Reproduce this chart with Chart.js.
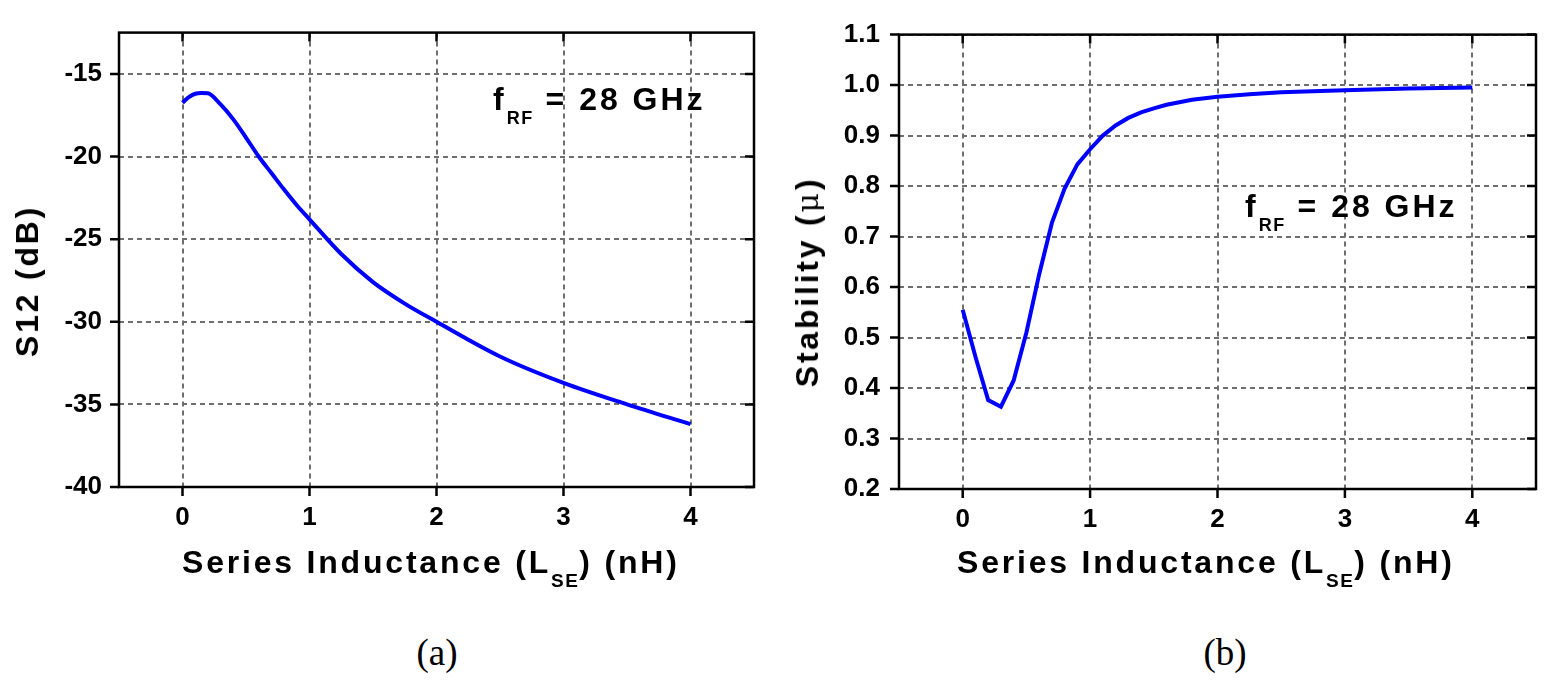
<!DOCTYPE html>
<html><head><meta charset="utf-8">
<script src="https://cdn.jsdelivr.net/npm/chart.js@4.4.0/dist/chart.umd.min.js"></script>
<style>
html,body{margin:0;padding:0;background:#fff;width:1548px;height:691px;overflow:hidden;}
body{position:relative;}
canvas{position:absolute;top:0;}
.t{position:absolute;font-family:"Liberation Sans",Arial,sans-serif;font-weight:bold;color:#000;white-space:nowrap;line-height:1;font-size:32px;letter-spacing:2.8px;}
.sub{font-size:19px;position:relative;top:14px;letter-spacing:1.5px;}
.ann .sub{font-size:18px;}
.rot{transform:translate(-50%,-50%) rotate(-90deg);}
.cap{position:absolute;font-family:"Liberation Serif","Times New Roman",serif;font-size:37px;line-height:1;color:#000;transform:translateX(-50%);white-space:nowrap;}
.mu{font-family:"DejaVu Serif",serif;font-weight:normal;font-size:30px;}
</style></head><body>
<canvas id="ca" width="774" height="600" style="left:0;width:774px;height:600px"></canvas>
<canvas id="cb" width="774" height="600" style="left:774px;width:774px;height:600px"></canvas>

<div class="t rot" style="left:27px;top:281px">S12 (dB)</div>
<div class="t" style="left:182px;top:546px">Series Inductance (L<span class="sub">SE</span>) (nH)</div>
<div class="t ann" style="left:493px;top:83px;letter-spacing:3px">f<span class="sub">RF</span> = 28 GHz</div>

<div class="t rot" style="left:807px;top:282px">Stability (<span class="mu">μ</span>)</div>
<div class="t" style="left:957px;top:546px">Series Inductance (L<span class="sub">SE</span>) (nH)</div>
<div class="t ann" style="left:1245px;top:190px;letter-spacing:3px">f<span class="sub">RF</span> = 28 GHz</div>

<div class="cap" style="left:437px;top:634px">(a)</div>
<div class="cap" style="left:1225px;top:634px">(b)</div>

<script>
// ---- data ----
const lseA = [0, 0.05, 0.1, 0.15, 0.2, 0.3, 0.4, 0.5, 0.6, 0.7, 0.8, 0.9, 1.0, 1.25, 1.5, 1.75, 2.0, 2.5, 3.0, 3.5, 4.0];
const s12 = [-16.75, -16.4, -16.2, -16.15, -16.17, -16.85, -17.75, -18.85, -20.0, -21.0, -22.0, -22.95, -23.8, -25.9, -27.6, -28.9, -30.0, -32.1, -33.7, -35.0, -36.2];
const lseB = [0, 0.1, 0.2, 0.3, 0.4, 0.5, 0.6, 0.7, 0.8, 0.9, 1.0, 1.1, 1.2, 1.3, 1.4, 1.5, 1.6, 1.8, 2.0, 2.25, 2.5, 3.0, 3.5, 4.0];
const stability = [0.555, 0.462, 0.376, 0.363, 0.415, 0.51, 0.625, 0.727, 0.795, 0.843, 0.873, 0.900, 0.920, 0.935, 0.946, 0.954, 0.961, 0.971, 0.977, 0.982, 0.986, 0.990, 0.993, 0.995];
const xTicks = [0, 1, 2, 3, 4];
const yTicksA = [-40, -35, -30, -25, -20, -15];
const yTicksB = [0.2, 0.3, 0.4, 0.5, 0.6, 0.7, 0.8, 0.9, 1.0, 1.1];

const FONT = '"Liberation Sans", Arial, sans-serif';

const framePlugin = {
  id: 'frame',
  afterDatasetsDraw(chart) {
    const {ctx, chartArea: a, scales: {x, y}} = chart;
    ctx.save();
    ctx.setLineDash([]);
    ctx.strokeStyle = '#000';
    ctx.lineWidth = 2.5;
    ctx.strokeRect(a.left, a.top, a.right - a.left, a.bottom - a.top);
    ctx.beginPath();
    x.ticks.forEach(t => {
      const px = x.getPixelForValue(t.value);
      ctx.moveTo(px, a.bottom); ctx.lineTo(px, a.bottom + 9);
      ctx.moveTo(px, a.top); ctx.lineTo(px, a.top + 9);
    });
    y.ticks.forEach(t => {
      const py = y.getPixelForValue(t.value);
      ctx.moveTo(a.left - 9, py); ctx.lineTo(a.left, py);
      ctx.moveTo(a.right - 9, py); ctx.lineTo(a.right, py);
    });
    ctx.stroke();
    ctx.restore();
  }
};

function makeChart(id, xs, ys, yTicks, ymin, ymax, fmt, pad, xh, yw, ypad, smooth) {
  return new Chart(document.getElementById(id), {
    type: 'line',
    data: {
      datasets: [{
        data: xs.map((v, i) => ({x: v, y: ys[i]})),
        borderColor: '#0000ff',
        borderWidth: 4,
        pointRadius: 0,
        fill: false,
        tension: smooth ? 0.4 : 0,
        cubicInterpolationMode: smooth ? 'monotone' : 'default'
      }]
    },
    options: {
      responsive: false,
      devicePixelRatio: 1,
      animation: false,
      layout: {padding: pad},
      plugins: {legend: {display: false}, tooltip: {enabled: false}},
      scales: {
        x: {
          type: 'linear', min: -0.5, max: 4.5,
          afterBuildTicks: s => { s.ticks = xTicks.map(v => ({value: v})); },
          afterFit: s => { s.height = xh; },
          grid: {color: '#6e6e6e', lineWidth: 2, drawTicks: false},
          border: {display: false, dash: [5, 4]},
          ticks: {padding: 15, color: '#000', autoSkip: false, maxRotation: 0,
                  font: {family: FONT, size: 26, weight: 'bold'}, callback: v => String(v)}
        },
        y: {
          type: 'linear', min: ymin, max: ymax,
          afterBuildTicks: s => { s.ticks = yTicks.map(v => ({value: v})); },
          afterFit: s => { s.width = yw; },
          grid: {color: '#6e6e6e', lineWidth: 2, drawTicks: false},
          border: {display: false, dash: [5, 4]},
          ticks: {padding: ypad, color: '#000', autoSkip: false,
                  font: {family: FONT, size: 26, weight: 'bold'}, callback: fmt}
        }
      }
    },
    plugins: [framePlugin]
  });
}

makeChart('ca', lseA, s12, yTicksA, -40, -12.5, v => String(v),
  {left: 0, right: 20, top: 16, bottom: 0}, 113, 119, 17, true);
makeChart('cb', lseB, stability, yTicksB, 0.2, 1.1, v => v.toFixed(1),
  {left: 0, right: 12, top: 21, bottom: 0}, 111, 125, 19, false);
</script>
</body></html>
